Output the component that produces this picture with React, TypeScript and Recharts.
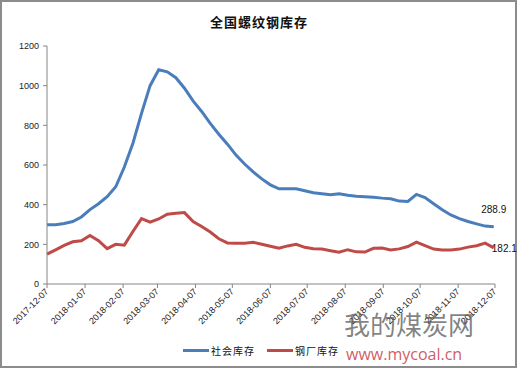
import { Line, LineChart, XAxis, YAxis } from 'recharts'

// 全国螺纹钢库存, weekly from 2017-12-07 (单位: 万吨)
const socialStock = [
  299, 299, 305, 315, 338, 375, 405, 440, 490, 590, 710, 860, 1000, 1080,
  1070, 1040, 987, 923, 870, 810, 755, 705, 650, 605, 565, 530, 500, 480,
  480, 480, 470, 460, 455, 450, 455, 447, 443, 440, 437, 433, 430, 418, 416,
  452, 436, 405, 374, 348, 330, 315, 303, 292, 288.9,
]

const millStock = [
  151, 172, 195, 213, 218, 245, 218, 178, 200, 196, 265, 330, 312, 328, 352,
  357, 360, 315, 290, 262, 228, 207, 206, 206, 210, 200, 190, 180, 192, 200,
  185, 178, 176, 168, 160, 173, 162, 161, 180, 181, 172, 177, 189, 211, 194,
  176, 171, 171, 176, 186, 193, 206, 182.1,
]

// day offsets of the monthly ticks and their labels
const monthTicks = [0, 31, 62, 90, 121, 151, 182, 212, 243, 274, 304, 335, 365]
const monthLabels = [
  '2017-12-07', '2018-01-07', '2018-02-07', '2018-03-07', '2018-04-07',
  '2018-05-07', '2018-06-07', '2018-07-07', '2018-08-07', '2018-09-07',
  '2018-10-07', '2018-11-07', '2018-12-07',
]
const yTicks = [0, 200, 400, 600, 800, 1000, 1200]

const BLUE = '#4a7ebb'
const RED = '#be4b48'
const AXIS = '#868686'
const TICK_FONT = '"Liberation Sans", Arial, sans-serif'
const CJK_FONT = '"Noto Sans CJK SC", sans-serif'

const data = socialStock.map((v, i) => ({
  day: i * 7,
  social: v,
  mill: millStock[i],
}))

const lastIndex = data.length - 1

function XTick({ x, y, payload }: any) {
  const idx = monthTicks.indexOf(payload.value)
  return (
    <text
      x={x}
      y={y}
      transform={`rotate(-45 ${x} ${y})`}
      textAnchor="end"
      dominantBaseline="central"
      fontSize={9}
      fontFamily={TICK_FONT}
      fill="#222"
    >
      {monthLabels[idx]}
    </text>
  )
}

function SocialLabel({ x, y, index, value }: any) {
  if (index !== lastIndex) return null
  return (
    <text x={x} y={y - 14} textAnchor="middle" fontSize={10} fontFamily={TICK_FONT} fill="#111">
      {value}
    </text>
  )
}

function MillLabel({ x, y, index, value }: any) {
  if (index !== lastIndex) return null
  return (
    <text x={x - 2} y={y + 4} textAnchor="start" fontSize={10} fontFamily={TICK_FONT} fill="#111">
      {value}
    </text>
  )
}

export default function App() {
  return (
    <div
      style={{
        position: 'fixed',
        left: 0,
        top: 0,
        width: 518,
        height: 369,
        background: '#fff',
      }}
    >
      <div
        style={{
          position: 'absolute',
          left: 0,
          top: 0,
          width: 517,
          height: 368,
          boxSizing: 'border-box',
          border: '2px solid #8c8c8c',
        }}
      />
      <div
        style={{
          position: 'absolute',
          top: 12,
          left: 0,
          width: 518,
          textAlign: 'center',
          fontFamily: CJK_FONT,
          fontWeight: 700,
          fontSize: 13,
          letterSpacing: 1,
          color: '#111',
        }}
      >
        全国螺纹钢库存
      </div>
      <LineChart
        width={518}
        height={369}
        data={data}
        margin={{ top: 46, right: 23, bottom: 25, left: 0 }}
      >
        <XAxis
          dataKey="day"
          type="number"
          domain={[0, 365]}
          ticks={monthTicks}
          interval={0}
          height={60}
          stroke={AXIS}
          tickSize={4}
          tickMargin={2}
          tick={<XTick />}
        />
        <YAxis
          type="number"
          domain={[0, 1200]}
          ticks={yTicks}
          width={47}
          stroke={AXIS}
          tickSize={4}
          tickMargin={4}
          tick={{ fontSize: 9, fontFamily: TICK_FONT, fill: '#222' }}
        />
        <Line
          dataKey="social"
          type="linear"
          stroke={BLUE}
          strokeWidth={3}
          dot={false}
          isAnimationActive={false}
          label={<SocialLabel />}
        />
        <Line
          dataKey="mill"
          type="linear"
          stroke={RED}
          strokeWidth={3}
          dot={false}
          isAnimationActive={false}
          label={<MillLabel />}
        />
      </LineChart>
      {/* watermark */}
      <div
        style={{
          position: 'absolute',
          left: 344,
          top: 310,
          fontFamily: CJK_FONT,
          fontSize: 26,
          lineHeight: '28px',
          color: 'rgba(90,90,90,0.75)',
          whiteSpace: 'nowrap',
        }}
      >
        我的煤炭网
      </div>
      <div
        style={{
          position: 'absolute',
          left: 346,
          top: 346,
          fontFamily: '"Open Sans", sans-serif',
          fontSize: 16,
          lineHeight: '16px',
          color: 'rgba(200,60,70,0.85)',
          whiteSpace: 'nowrap',
        }}
      >
        www.mycoal.cn
      </div>
      {/* legend */}
      <div
        style={{
          position: 'absolute',
          left: 183,
          top: 343,
          display: 'flex',
          alignItems: 'center',
          fontFamily: CJK_FONT,
          fontSize: 10,
          color: '#111',
          whiteSpace: 'nowrap',
        }}
      >
        <span style={{ width: 26, height: 3, background: BLUE, display: 'inline-block' }} />
        <span style={{ marginLeft: 2, letterSpacing: 1 }}>社会库存</span>
        <span
          style={{
            width: 26,
            height: 3,
            background: RED,
            display: 'inline-block',
            marginLeft: 12,
          }}
        />
        <span style={{ marginLeft: 2, letterSpacing: 1 }}>钢厂库存</span>
      </div>
    </div>
  )
}
